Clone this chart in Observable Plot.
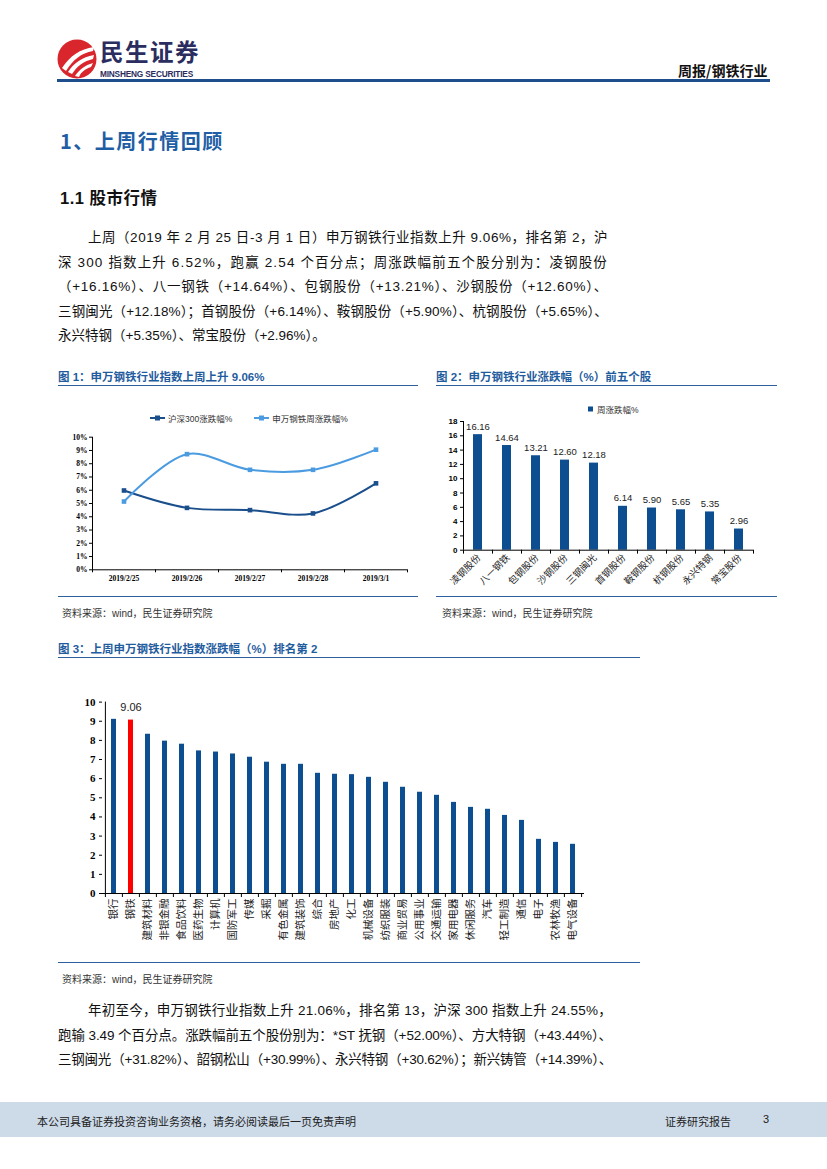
<!DOCTYPE html>
<html><head><meta charset="utf-8">
<script src="https://cdn.jsdelivr.net/npm/d3@7"></script>
<script src="https://cdn.jsdelivr.net/npm/@observablehq/plot@0.6"></script>
<style>
body{margin:0;background:#fff;}
#page{position:relative;width:827px;height:1169px;overflow:hidden;font-family:"Liberation Sans","Noto Sans CJK SC",sans-serif;color:#111;}
.abs{position:absolute;}
.ln{position:absolute;white-space:nowrap;font-size:13.5px;line-height:18px;color:#111;}
.ftitle{position:absolute;font-size:11.5px;font-weight:bold;color:#1f5c9e;white-space:nowrap;}
.hline{position:absolute;height:0;border-top:1.6px solid #2d609c;}
.src{position:absolute;font-size:10px;color:#333;white-space:nowrap;}
.leg{position:absolute;font-size:8.5px;color:#333;white-space:nowrap;display:flex;align-items:center;}
</style></head><body><div id="page">

<!-- header -->
<svg class="abs" style="left:56px;top:38px" width="42" height="42" viewBox="0 0 42 42">
  <circle cx="21" cy="21" r="19.5" fill="#d9262c"/>
  <path d="M6 30 C14 18 24 11 38 9 L37 13 C25 15 17 22 10 33 Z" fill="#fff"/>
  <path d="M12 34 C18 25 26 19 38 17 L37 21 C28 23 21 28 16 36 Z" fill="#fff"/>
  <path d="M19 38 C23 32 29 27 37 25 L35 29 C29 31 25 34 23 39 Z" fill="#fff"/>
</svg>
<div class="abs" style="left:100px;top:33.5px;font-size:23.5px;font-weight:bold;color:#2a2d5e;letter-spacing:1.5px;font-family:'Noto Sans CJK SC',sans-serif;">民生证券</div>
<div class="abs" style="left:100px;top:69px;font-size:8.3px;font-weight:bold;color:#2a2d5e;letter-spacing:-0.2px;">MINSHENG SECURITIES</div>
<div class="abs" style="left:678px;top:60px;font-size:14px;font-weight:bold;color:#111;font-family:'Noto Sans CJK SC',sans-serif;">周报/钢铁行业</div>
<div class="abs" style="left:57px;top:79px;width:713px;height:3px;background:#1e4f8c;"></div>

<div class="abs" style="left:60px;top:126px;font-size:20px;font-weight:bold;color:#1f5ea5;letter-spacing:1.5px;font-family:'Noto Sans CJK SC',sans-serif;">1、上周行情回顾</div>
<div class="abs" style="left:60px;top:185px;font-size:16.5px;font-weight:bold;color:#111;letter-spacing:0.5px;">1.1 股市行情</div>

<div id="para1"></div>

<!-- figure 1 -->
<div class="ftitle" style="left:58px;top:368px;">图 1：申万钢铁行业指数上周上升 9.06%</div>
<div class="hline" style="left:58px;top:385px;width:360px;"></div>
<div id="fig1" class="abs" style="left:58px;top:390px;"></div>
<div class="leg" style="left:150px;top:412px;">
  <svg width="15" height="8"><line x1="0" y1="4" x2="15" y2="4" stroke="#1a4f8c" stroke-width="2"/><rect x="5" y="1.5" width="5" height="5" fill="#1a4f8c"/></svg>
  <span style="margin-left:3px">沪深300涨跌幅%</span>
  <svg width="15" height="8" style="margin-left:22px"><line x1="0" y1="4" x2="15" y2="4" stroke="#4b9be1" stroke-width="2"/><rect x="5" y="1.5" width="5" height="5" fill="#4b9be1"/></svg>
  <span style="margin-left:3px">申万钢铁周涨跌幅%</span>
</div>
<div class="hline" style="left:58px;top:596px;width:360px;"></div>
<div class="src" style="left:62px;top:605px;">资料来源：wind，民生证券研究院</div>

<!-- figure 2 -->
<div class="ftitle" style="left:436px;top:368px;">图 2：申万钢铁行业涨跌幅（%）前五个股</div>
<div class="hline" style="left:436px;top:385px;width:341px;"></div>
<div id="fig2" class="abs" style="left:436px;top:392px;"></div>
<div class="leg" style="left:588px;top:403px;">
  <svg width="6" height="8"><rect x="0" y="1.5" width="5" height="5" fill="#0c4e8f"/></svg>
  <span style="margin-left:3px">周涨跌幅%</span>
</div>
<div class="hline" style="left:436px;top:596px;width:341px;"></div>
<div class="src" style="left:442px;top:605px;">资料来源：wind，民生证券研究院</div>

<!-- figure 3 -->
<div class="ftitle" style="left:58px;top:640px;">图 3：上周申万钢铁行业指数涨跌幅（%）排名第 2</div>
<div class="hline" style="left:58px;top:657px;width:582px;"></div>
<div id="fig3" class="abs" style="left:58px;top:680px;"></div>
<div class="hline" style="left:58px;top:962px;width:582px;"></div>
<div class="src" style="left:62px;top:971px;">资料来源：wind，民生证券研究院</div>

<div id="para2"></div>

<!-- footer -->
<div class="abs" style="left:0;top:1102px;width:827px;height:35px;background:#cddbe9;"></div>
<div class="abs" style="left:37px;top:1113px;font-size:11px;color:#222;font-family:'Noto Sans CJK SC',sans-serif;">本公司具备证券投资咨询业务资格，请务必阅读最后一页免责声明</div>
<div class="abs" style="left:665px;top:1113px;font-size:11px;color:#222;font-family:'Noto Sans CJK SC',sans-serif;">证券研究报告</div>
<div class="abs" style="left:763px;top:1113px;font-size:11px;color:#222;">3</div>

</div>
<script>
// ---------- data ----------
const dates = ["2019/2/25", "2019/2/26", "2019/2/27", "2019/2/28", "2019/3/1"];
const hs300Chg = [5.98, 4.67, 4.50, 4.25, 6.52];
const swSteelChg = [5.15, 8.72, 7.54, 7.54, 9.06];
const seriesNames = ["沪深300涨跌幅%", "申万钢铁周涨跌幅%"];
const pctTicks = [0, 1, 2, 3, 4, 5, 6, 7, 8, 9, 10];

const stocks = ["凌钢股份", "八一钢铁", "包钢股份", "沙钢股份", "三钢闽光", "首钢股份", "鞍钢股份", "杭钢股份", "永兴特钢", "常宝股份"];
const stockChg = [16.16, 14.64, 13.21, 12.60, 12.18, 6.14, 5.90, 5.65, 5.35, 2.96];
const stockTicks = [0, 2, 4, 6, 8, 10, 12, 14, 16, 18];

const industries = ["银行", "钢铁", "建筑材料", "非银金融", "食品饮料", "医药生物", "计算机", "国防军工", "传媒", "采掘", "有色金属", "建筑装饰", "综合", "房地产", "化工", "机械设备", "纺织服装", "商业贸易", "公用事业", "交通运输", "家用电器", "休闲服务", "汽车", "轻工制造", "通信", "电子", "农林牧渔", "电气设备"];
const industryChg = [9.10, 9.06, 8.32, 7.96, 7.80, 7.45, 7.39, 7.29, 7.12, 6.86, 6.75, 6.75, 6.28, 6.23, 6.21, 6.07, 5.81, 5.55, 5.29, 5.13, 4.76, 4.50, 4.40, 4.08, 3.82, 2.83, 2.67, 2.57];
const industryTicks = [0, 1, 2, 3, 4, 5, 6, 7, 8, 9, 10];
const highlight = "钢铁";

const para1 = [
  "上周（2019 年 2 月 25 日-3 月 1 日）申万钢铁行业指数上升 9.06%，排名第 2，沪",
  "深 300 指数上升 6.52%，跑赢 2.54 个百分点；周涨跌幅前五个股分别为：凌钢股份",
  "（+16.16%）、八一钢铁（+14.64%）、包钢股份（+13.21%）、沙钢股份（+12.60%）、",
  "三钢闽光（+12.18%）；首钢股份（+6.14%）、鞍钢股份（+5.90%）、杭钢股份（+5.65%）、",
  "永兴特钢（+5.35%）、常宝股份（+2.96%）。"
];
const para2 = [
  "年初至今，申万钢铁行业指数上升 21.06%，排名第 13，沪深 300 指数上升 24.55%，",
  "跑输 3.49 个百分点。涨跌幅前五个股份别为：*ST 抚钢（+52.00%）、方大特钢（+43.44%）、",
  "三钢闽光（+31.82%）、韶钢松山（+30.99%）、永兴特钢（+30.62%）；新兴铸管（+14.39%）、"
];

// ---------- paragraphs ----------
function drawPara(id, lines, top, step, justifyLast, rightEdge) {
  const host = document.getElementById(id);
  lines.forEach((t, k) => {
    const left = k === 0 ? 88 : 58;
    const el = document.createElement("div");
    el.className = "ln";
    el.style.left = left + "px";
    el.style.top = (top + k * step) + "px";
    const sp = document.createElement("span");
    sp.textContent = t;
    el.appendChild(sp);
    host.appendChild(el);
    const isLast = k === lines.length - 1;
    if (!isLast || justifyLast) {
      const target = rightEdge - left;
      const nat = sp.getBoundingClientRect().width;
      const n = [...t].length;
      sp.style.letterSpacing = ((target - nat) / n) + "px";
    }
  });
}
drawPara("para1", para1, 229, 24.5, false, 608);
drawPara("para2", para2, 1002, 24.5, true, 612);

// ---------- figure 1 ----------
const dark = "#1a4f8c", light = "#4b9be1";
const idx = dates.map((d, i) => i);
const s1 = idx.map(i => ({i, v: hs300Chg[i], s: seriesNames[0]}));
const s2 = idx.map(i => ({i, v: swSteelChg[i], s: seriesNames[1]}));
const serif = "'Liberation Serif','Times New Roman',serif";

const fig1 = Plot.plot({
  width: 360, height: 200,
  marginLeft: 34, marginRight: 11, marginTop: 46.7, marginBottom: 20.7,
  x: {domain: [-0.5, dates.length - 0.5]},
  y: {domain: [0, 10]},
  style: {fontFamily: serif, fontSize: "7.5px", color: "#000", background: "transparent", overflow: "visible"},
  marks: [
    Plot.axisY({ticks: pctTicks, tickSize: 3, tickPadding: 2, tickFormat: d => d + "%", label: null, fontWeight: "bold", fontFamily: serif, fontSize: 7.5}),
    Plot.axisX({ticks: d3.range(-0.5, dates.length, 1), tickSize: 3, tickFormat: () => "", label: null}),
    Plot.axisX({ticks: idx, tickSize: 0, tickPadding: 6, tickFormat: i => dates[i], label: null, fontWeight: "bold", fontFamily: serif, fontSize: 7.5}),
    Plot.ruleY([0], {stroke: "#000"}),
    Plot.ruleX([-0.5], {y1: 0, y2: 10, stroke: "#000"}),
    Plot.line(s1, {x: "i", y: "v", stroke: dark, strokeWidth: 2, curve: "catmull-rom"}),
    Plot.line(s2, {x: "i", y: "v", stroke: light, strokeWidth: 2, curve: "catmull-rom"}),
    Plot.dot(s1, {x: "i", y: "v", symbol: "square", r: 2.6, fill: dark}),
    Plot.dot(s2, {x: "i", y: "v", symbol: "square", r: 2.6, fill: light})
  ]
});
document.getElementById("fig1").appendChild(fig1);

// ---------- figure 2 ----------
const barBlue = "#0c4e8f";
const stockData = stocks.map((n, i) => ({n, v: stockChg[i]}));
const step2 = 290 / stocks.length;
const fig2 = Plot.plot({
  width: 341, height: 200,
  marginLeft: 27, marginRight: 24, marginTop: 29, marginBottom: 42.3,
  x: {domain: stocks, paddingInner: 0.69, paddingOuter: 0.345, axis: null},
  y: {domain: [0, 18]},
  style: {fontFamily: "'Liberation Sans',Arial,sans-serif", fontSize: "8px", color: "#000", background: "transparent", overflow: "visible"},
  marks: [
    Plot.axisY({ticks: stockTicks, tickSize: 3, tickPadding: 3, label: null, fontWeight: "bold", fontSize: 8}),
    Plot.barY(stockData, {x: "n", y: "v", fill: barBlue}),
    Plot.text(stockData, {x: "n", y: "v", text: d => d.v.toFixed(2), dy: -8, fontSize: 9.5, fill: "#222"}),
    Plot.ruleY([0], {stroke: "#000"}),
    Plot.ruleX(stocks.slice(0, 1), {x: d => d, y1: 0, y2: 18, dx: -step2 / 2, stroke: "#000"}),
    Plot.ruleX(stocks, {x: d => d, y1: 0, y2: -0.55, dx: -step2 / 2, stroke: "#000"}),
    Plot.ruleX(stocks.slice(-1), {x: d => d, y1: 0, y2: -0.55, dx: step2 / 2, stroke: "#000"}),
    Plot.text(stocks, {x: d => d, frameAnchor: "bottom", text: d => d, rotate: -45, textAnchor: "end", lineAnchor: "middle", dy: 6, dx: 1, fontSize: 9.5, fontFamily: "'Noto Sans CJK SC',sans-serif", fill: "#222"})
  ]
});
document.getElementById("fig2").appendChild(fig2);

// ---------- figure 3 ----------
const indData = industries.map((n, i) => ({n, v: industryChg[i]}));
const step3 = 482 / industries.length;
const fig3 = Plot.plot({
  width: 582, height: 275,
  marginLeft: 44, marginRight: 56, marginTop: 21.6, marginBottom: 62,
  x: {domain: industries, paddingInner: 0.69, paddingOuter: 0.345, axis: null},
  y: {domain: [0, 10]},
  style: {fontFamily: serif, fontSize: "10px", color: "#000", background: "transparent", overflow: "visible"},
  marks: [
    Plot.axisY({ticks: industryTicks, tickSize: 3, tickPadding: 4, label: null, fontWeight: "bold", fontFamily: serif, fontSize: 11}),
    Plot.barY(indData.filter(d => d.n !== highlight), {x: "n", y: "v", fill: barBlue}),
    Plot.barY(indData.filter(d => d.n === highlight), {x: "n", y: "v", fill: "#ff0000"}),
    Plot.text(indData.filter(d => d.n === highlight), {x: "n", y: "v", text: d => d.v.toFixed(2), dy: -13, fontSize: 11, fontFamily: "'Liberation Sans',Arial,sans-serif", fill: "#222"}),
    Plot.ruleY([0], {stroke: "#000"}),
    Plot.ruleX(industries.slice(0, 1), {x: d => d, y1: 0, y2: 10, dx: -step3 / 2, stroke: "#000"}),
    Plot.ruleX(industries, {x: d => d, y1: 0, y2: -0.21, dx: -step3 / 2, stroke: "#000"}),
    Plot.ruleX(industries.slice(-1), {x: d => d, y1: 0, y2: -0.21, dx: step3 / 2, stroke: "#000"}),
    Plot.text(industries, {x: d => d, frameAnchor: "bottom", text: d => d, rotate: -90, textAnchor: "end", lineAnchor: "middle", dy: 5, fontSize: 10.5, fontFamily: "'Noto Sans CJK SC',sans-serif", fill: "#222"})
  ]
});
document.getElementById("fig3").appendChild(fig3);
</script>
</body></html>
